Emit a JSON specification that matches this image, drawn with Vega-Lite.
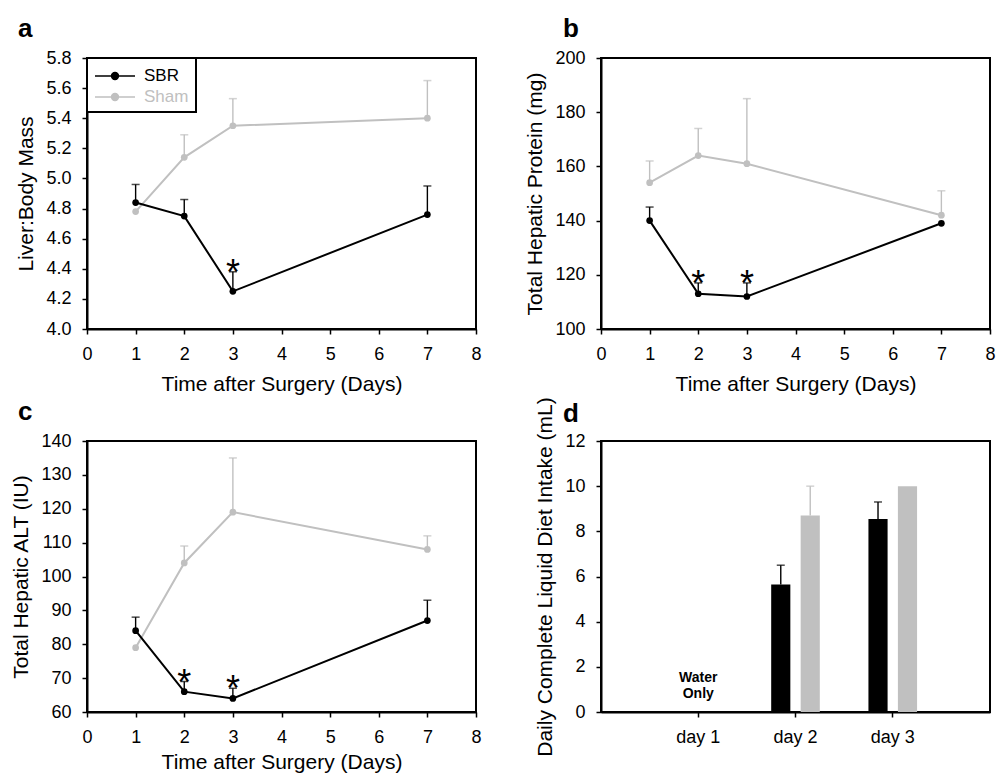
{
  "$schema": "https://vega.github.io/schema/vega-lite/v6.json",
  "padding": {"left": 9, "top": 15, "right": 5, "bottom": 0},
  "columns": 2,
  "spacing": {"row": 112, "column": 125},
  "bounds": "flush",
  "config": {
    "font": "Liberation Sans",
    "background": "white",
    "view": {"stroke": "#000000", "strokeWidth": 2},
    "axis": {
      "domainColor": "#000000", "domainWidth": 2,
      "tickColor": "#000000", "tickWidth": 1.5, "tickSize": 5,
      "labelFontSize": 18, "labelColor": "#000000", "labelPadding": 11,
      "labelFlush": false, "labelOverlap": false,
      "titleFontSize": 21, "titleFontWeight": "normal", "titleColor": "#000000",
      "titlePadding": 10,
      "grid": false
    },
    "axisY": {"titlePadding": 9},
    "title": {"fontSize": 26, "fontWeight": "bold", "anchor": "start", "frame": "group", "baseline": "alphabetic", "color": "#000000"},
    "legend": {
      "orient": "top-left", "offset": 0, "title": null,
      "labelFontSize": 17, "labelOffset": 28, "padding": 7, "rowPadding": 2,
      "symbolSize": 400,
      "strokeColor": "#000000", "fillColor": "white"
    }
  },
  "concat": [
    {
      "title": {"text": "a", "dx": -69, "offset": 7},
      "width": 389, "height": 271,
      "data": {"values": [
        {"day": 1, "grp": "Sham", "mean": 4.78, "hi": null, "sig": false},
        {"day": 2, "grp": "Sham", "mean": 5.14, "hi": 5.29, "sig": false},
        {"day": 3, "grp": "Sham", "mean": 5.35, "hi": 5.53, "sig": false},
        {"day": 7, "grp": "Sham", "mean": 5.40, "hi": 5.65, "sig": false},
        {"day": 1, "grp": "SBR", "mean": 4.84, "hi": 4.96, "sig": false},
        {"day": 2, "grp": "SBR", "mean": 4.75, "hi": 4.86, "sig": false},
        {"day": 3, "grp": "SBR", "mean": 4.25, "hi": 4.38, "sig": true},
        {"day": 7, "grp": "SBR", "mean": 4.76, "hi": 4.95, "sig": false}
      ]},
      "encoding": {
        "x": {"field": "day", "type": "quantitative", "title": "Time after Surgery (Days)",
              "scale": {"domain": [0, 8], "nice": false, "zero": false},
              "axis": {"values": [0, 1, 2, 3, 4, 5, 6, 7, 8]}},
        "color": {"field": "grp", "type": "nominal",
                  "scale": {"domain": ["SBR", "Sham"], "range": ["#000000", "#c0c0c0"]},
                  "legend": {
                    "symbolType": "M-1,0L3,0M1.34,0A0.34,0.34,0,1,1,0.66,0A0.34,0.34,0,1,1,1.34,0",
                    "symbolStrokeWidth": 1.6,
                    "encode": {
                      "labels": {"update": {"fill": {"signal": "datum.value === 'SBR' ? '#000000' : '#c0c0c0'"}}},
                      "symbols": {"update": {"fill": {"signal": "datum.value === 'SBR' ? '#000000' : '#c0c0c0'"}, "stroke": {"signal": "datum.value === 'SBR' ? '#000000' : '#c0c0c0'"}, "opacity": {"value": 1}}},
                      "legend": {"update": {"strokeWidth": {"value": 2}}}
                    }
                  }}
      },
      "layer": [
        {
          "transform": [{"filter": "datum.hi != null"}],
          "mark": {"type": "rule", "strokeWidth": 1.4},
          "encoding": {
            "y": {"field": "mean", "type": "quantitative", "title": "Liver:Body Mass", "scale": {"domain": [4.0, 5.8], "nice": false, "zero": false},
                  "axis": {"values": [4.0, 4.2, 4.4, 4.6, 4.8, 5.0, 5.2, 5.4, 5.6, 5.8], "format": ".1f"}},
            "y2": {"field": "hi"}
          }
        },
        {
          "transform": [{"filter": "datum.hi != null"}],
          "mark": {"type": "tick", "orient": "horizontal", "size": 8, "thickness": 1.5},
          "encoding": {"y": {"field": "hi", "type": "quantitative", "title": "Liver:Body Mass", "scale": {"domain": [4.0, 5.8], "nice": false, "zero": false},
                  "axis": {"values": [4.0, 4.2, 4.4, 4.6, 4.8, 5.0, 5.2, 5.4, 5.6, 5.8], "format": ".1f"}}}
        },
        {
          "mark": {"type": "line", "strokeWidth": 2},
          "encoding": {
            "y": {"field": "mean", "type": "quantitative", "title": "Liver:Body Mass", "scale": {"domain": [4.0, 5.8], "nice": false, "zero": false},
                  "axis": {"values": [4.0, 4.2, 4.4, 4.6, 4.8, 5.0, 5.2, 5.4, 5.6, 5.8], "format": ".1f"}}
          }
        },
        {
          "mark": {"type": "point", "filled": true, "size": 45, "opacity": 1},
          "encoding": {"y": {"field": "mean", "type": "quantitative", "title": "Liver:Body Mass", "scale": {"domain": [4.0, 5.8], "nice": false, "zero": false},
                  "axis": {"values": [4.0, 4.2, 4.4, 4.6, 4.8, 5.0, 5.2, 5.4, 5.6, 5.8], "format": ".1f"}}}
        },
        {
          "transform": [{"filter": "datum.sig"}],
          "mark": {"type": "text", "text": "*", "fontSize": 36, "baseline": "alphabetic", "dy": 13},
          "encoding": {"y": {"field": "hi", "type": "quantitative", "title": "Liver:Body Mass", "scale": {"domain": [4.0, 5.8], "nice": false, "zero": false},
                  "axis": {"values": [4.0, 4.2, 4.4, 4.6, 4.8, 5.0, 5.2, 5.4, 5.6, 5.8], "format": ".1f"}}, "color": {"value": "#000000"}}
        }
      ]
    },
    {
      "title": {"text": "b", "dx": -38, "offset": 7},
      "width": 389, "height": 271,
      "data": {"values": [
        {"day": 1, "grp": "Sham", "mean": 154, "hi": 162, "sig": false},
        {"day": 2, "grp": "Sham", "mean": 164, "hi": 174, "sig": false},
        {"day": 3, "grp": "Sham", "mean": 161, "hi": 185, "sig": false},
        {"day": 7, "grp": "Sham", "mean": 142, "hi": 151, "sig": false},
        {"day": 1, "grp": "SBR", "mean": 140, "hi": 145, "sig": false},
        {"day": 2, "grp": "SBR", "mean": 113, "hi": 117, "sig": true},
        {"day": 3, "grp": "SBR", "mean": 112, "hi": 117, "sig": true},
        {"day": 7, "grp": "SBR", "mean": 139, "hi": null, "sig": false}
      ]},
      "encoding": {
        "x": {"field": "day", "type": "quantitative", "title": "Time after Surgery (Days)",
              "scale": {"domain": [0, 8], "nice": false, "zero": false},
              "axis": {"values": [0, 1, 2, 3, 4, 5, 6, 7, 8]}},
        "color": {"field": "grp", "type": "nominal",
                  "scale": {"domain": ["SBR", "Sham"], "range": ["#000000", "#c0c0c0"]},
                  "legend": {
                    "symbolType": "M-1,0L3,0M1.34,0A0.34,0.34,0,1,1,0.66,0A0.34,0.34,0,1,1,1.34,0",
                    "symbolStrokeWidth": 1.6,
                    "encode": {
                      "labels": {"update": {"fill": {"signal": "datum.value === 'SBR' ? '#000000' : '#c0c0c0'"}}},
                      "symbols": {"update": {"fill": {"signal": "datum.value === 'SBR' ? '#000000' : '#c0c0c0'"}, "stroke": {"signal": "datum.value === 'SBR' ? '#000000' : '#c0c0c0'"}, "opacity": {"value": 1}}},
                      "legend": {"update": {"strokeWidth": {"value": 2}}}
                    }
                  }}
      },
      "layer": [
        {
          "transform": [{"filter": "datum.hi != null"}],
          "mark": {"type": "rule", "strokeWidth": 1.4},
          "encoding": {
            "y": {"field": "mean", "type": "quantitative", "title": "Total Hepatic Protein (mg)", "scale": {"domain": [100, 200], "nice": false, "zero": false},
                  "axis": {"values": [100, 120, 140, 160, 180, 200]}},
            "y2": {"field": "hi"}
          }
        },
        {
          "transform": [{"filter": "datum.hi != null"}],
          "mark": {"type": "tick", "orient": "horizontal", "size": 8, "thickness": 1.5},
          "encoding": {"y": {"field": "hi", "type": "quantitative", "title": "Total Hepatic Protein (mg)", "scale": {"domain": [100, 200], "nice": false, "zero": false},
                  "axis": {"values": [100, 120, 140, 160, 180, 200]}}}
        },
        {
          "mark": {"type": "line", "strokeWidth": 2},
          "encoding": {
            "y": {"field": "mean", "type": "quantitative", "title": "Total Hepatic Protein (mg)", "scale": {"domain": [100, 200], "nice": false, "zero": false},
                  "axis": {"values": [100, 120, 140, 160, 180, 200]}}
          }
        },
        {
          "mark": {"type": "point", "filled": true, "size": 45, "opacity": 1},
          "encoding": {"y": {"field": "mean", "type": "quantitative", "title": "Total Hepatic Protein (mg)", "scale": {"domain": [100, 200], "nice": false, "zero": false},
                  "axis": {"values": [100, 120, 140, 160, 180, 200]}}}
        },
        {
          "transform": [{"filter": "datum.sig"}],
          "mark": {"type": "text", "text": "*", "fontSize": 36, "baseline": "alphabetic", "dy": 13},
          "encoding": {"y": {"field": "hi", "type": "quantitative", "title": "Total Hepatic Protein (mg)", "scale": {"domain": [100, 200], "nice": false, "zero": false},
                  "axis": {"values": [100, 120, 140, 160, 180, 200]}}, "color": {"value": "#000000"}}
        }
      ]
    },
    {
      "title": {"text": "c", "dx": -69, "offset": 7},
      "width": 389, "height": 271,
      "data": {"values": [
        {"day": 1, "grp": "Sham", "mean": 79, "hi": null, "sig": false},
        {"day": 2, "grp": "Sham", "mean": 104, "hi": 109, "sig": false},
        {"day": 3, "grp": "Sham", "mean": 119, "hi": 135, "sig": false},
        {"day": 7, "grp": "Sham", "mean": 108, "hi": 112, "sig": false},
        {"day": 1, "grp": "SBR", "mean": 84, "hi": 88, "sig": false},
        {"day": 2, "grp": "SBR", "mean": 66, "hi": 69, "sig": true},
        {"day": 3, "grp": "SBR", "mean": 64, "hi": 67, "sig": true},
        {"day": 7, "grp": "SBR", "mean": 87, "hi": 93, "sig": false}
      ]},
      "encoding": {
        "x": {"field": "day", "type": "quantitative", "title": "Time after Surgery (Days)",
              "scale": {"domain": [0, 8], "nice": false, "zero": false},
              "axis": {"values": [0, 1, 2, 3, 4, 5, 6, 7, 8], "titlePadding": 5}},
        "color": {"field": "grp", "type": "nominal",
                  "scale": {"domain": ["SBR", "Sham"], "range": ["#000000", "#c0c0c0"]},
                  "legend": {
                    "symbolType": "M-1,0L3,0M1.34,0A0.34,0.34,0,1,1,0.66,0A0.34,0.34,0,1,1,1.34,0",
                    "symbolStrokeWidth": 1.6,
                    "encode": {
                      "labels": {"update": {"fill": {"signal": "datum.value === 'SBR' ? '#000000' : '#c0c0c0'"}}},
                      "symbols": {"update": {"fill": {"signal": "datum.value === 'SBR' ? '#000000' : '#c0c0c0'"}, "stroke": {"signal": "datum.value === 'SBR' ? '#000000' : '#c0c0c0'"}, "opacity": {"value": 1}}},
                      "legend": {"update": {"strokeWidth": {"value": 2}}}
                    }
                  }}
      },
      "layer": [
        {
          "transform": [{"filter": "datum.hi != null"}],
          "mark": {"type": "rule", "strokeWidth": 1.4},
          "encoding": {
            "y": {"field": "mean", "type": "quantitative", "title": "Total Hepatic ALT (IU)", "scale": {"domain": [60, 140], "nice": false, "zero": false},
                  "axis": {"values": [60, 70, 80, 90, 100, 110, 120, 130, 140]}},
            "y2": {"field": "hi"}
          }
        },
        {
          "transform": [{"filter": "datum.hi != null"}],
          "mark": {"type": "tick", "orient": "horizontal", "size": 8, "thickness": 1.5},
          "encoding": {"y": {"field": "hi", "type": "quantitative", "title": "Total Hepatic ALT (IU)", "scale": {"domain": [60, 140], "nice": false, "zero": false},
                  "axis": {"values": [60, 70, 80, 90, 100, 110, 120, 130, 140]}}}
        },
        {
          "mark": {"type": "line", "strokeWidth": 2},
          "encoding": {
            "y": {"field": "mean", "type": "quantitative", "title": "Total Hepatic ALT (IU)", "scale": {"domain": [60, 140], "nice": false, "zero": false},
                  "axis": {"values": [60, 70, 80, 90, 100, 110, 120, 130, 140]}}
          }
        },
        {
          "mark": {"type": "point", "filled": true, "size": 45, "opacity": 1},
          "encoding": {"y": {"field": "mean", "type": "quantitative", "title": "Total Hepatic ALT (IU)", "scale": {"domain": [60, 140], "nice": false, "zero": false},
                  "axis": {"values": [60, 70, 80, 90, 100, 110, 120, 130, 140]}}}
        },
        {
          "transform": [{"filter": "datum.sig"}],
          "mark": {"type": "text", "text": "*", "fontSize": 36, "baseline": "alphabetic", "dy": 13},
          "encoding": {"y": {"field": "hi", "type": "quantitative", "title": "Total Hepatic ALT (IU)", "scale": {"domain": [60, 140], "nice": false, "zero": false},
                  "axis": {"values": [60, 70, 80, 90, 100, 110, 120, 130, 140]}}, "color": {"value": "#000000"}}
        }
      ]
    },
    {
      "title": {"text": "d", "dx": -38, "offset": -30},
      "width": 389, "height": 271,
      "data": {"values": [
        {"day": "day 2", "grp": "SBR", "mean": 5.65, "hi": 6.5},
        {"day": "day 2", "grp": "Sham", "mean": 8.7, "hi": 10.0},
        {"day": "day 3", "grp": "SBR", "mean": 8.55, "hi": 9.3},
        {"day": "day 3", "grp": "Sham", "mean": 10.0, "hi": null}
      ]},
      "encoding": {
        "x": {"field": "day", "type": "nominal", "title": null,
              "scale": {"domain": ["day 1", "day 2", "day 3"], "paddingInner": 0.5, "paddingOuter": 0.75},
              "axis": {"labelAngle": 0}},
        "color": {"field": "grp", "type": "nominal",
                  "scale": {"domain": ["SBR", "Sham"], "range": ["#000000", "#c0c0c0"]},
                  "legend": {
                    "symbolType": "M-1,-0.36L3,-0.36L3,0.36L-1,0.36Z",
                    "symbolStrokeWidth": 0,
                    "encode": {
                      "labels": {"update": {"fill": {"signal": "datum.value === 'SBR' ? '#000000' : '#c0c0c0'"}}},
                      "symbols": {"update": {"fill": {"signal": "datum.value === 'SBR' ? '#000000' : '#c0c0c0'"}, "opacity": {"value": 1}}},
                      "legend": {"update": {"strokeWidth": {"value": 2}}}
                    }
                  }}
      },
      "layer": [
        {
          "mark": {"type": "bar"},
          "encoding": {
            "xOffset": {"field": "grp", "type": "nominal", "scale": {"domain": ["SBR", "Sham"], "paddingInner": 0.35, "paddingOuter": 0}},
            "y": {"field": "mean", "type": "quantitative", "title": "Daily Complete Liquid Diet Intake (mL)",
                  "scale": {"domain": [0, 12], "nice": false},
                  "axis": {"values": [0, 2, 4, 6, 8, 10, 12]}}
          }
        },
        {
          "transform": [{"filter": "datum.hi != null"}],
          "mark": {"type": "rule", "strokeWidth": 1.4},
          "encoding": {
            "xOffset": {"field": "grp", "type": "nominal"},
            "y": {"field": "mean", "type": "quantitative", "title": "Daily Complete Liquid Diet Intake (mL)", "scale": {"domain": [0, 12], "nice": false},
                  "axis": {"values": [0, 2, 4, 6, 8, 10, 12]}},
            "y2": {"field": "hi"}
          }
        },
        {
          "transform": [{"filter": "datum.hi != null"}],
          "mark": {"type": "tick", "orient": "horizontal", "size": 8, "thickness": 1.5},
          "encoding": {
            "xOffset": {"field": "grp", "type": "nominal"},
            "y": {"field": "hi", "type": "quantitative", "title": "Daily Complete Liquid Diet Intake (mL)", "scale": {"domain": [0, 12], "nice": false},
                  "axis": {"values": [0, 2, 4, 6, 8, 10, 12]}}
          }
        },
        {
          "data": {"values": [{"day": "day 1", "note": "Water\nOnly", "base": 0}]},
          "mark": {"type": "text", "fontSize": 14, "fontWeight": "bold", "lineBreak": "\n", "lineHeight": 16, "baseline": "bottom", "dy": -27},
          "encoding": {
            "x": {"field": "day", "type": "nominal"},
            "y": {"field": "base", "type": "quantitative", "title": "Daily Complete Liquid Diet Intake (mL)", "scale": {"domain": [0, 12], "nice": false},
                  "axis": {"values": [0, 2, 4, 6, 8, 10, 12]}},
            "text": {"field": "note"},
            "color": {"value": "#000000"}
          }
        }
      ]
    }
  ]
}
